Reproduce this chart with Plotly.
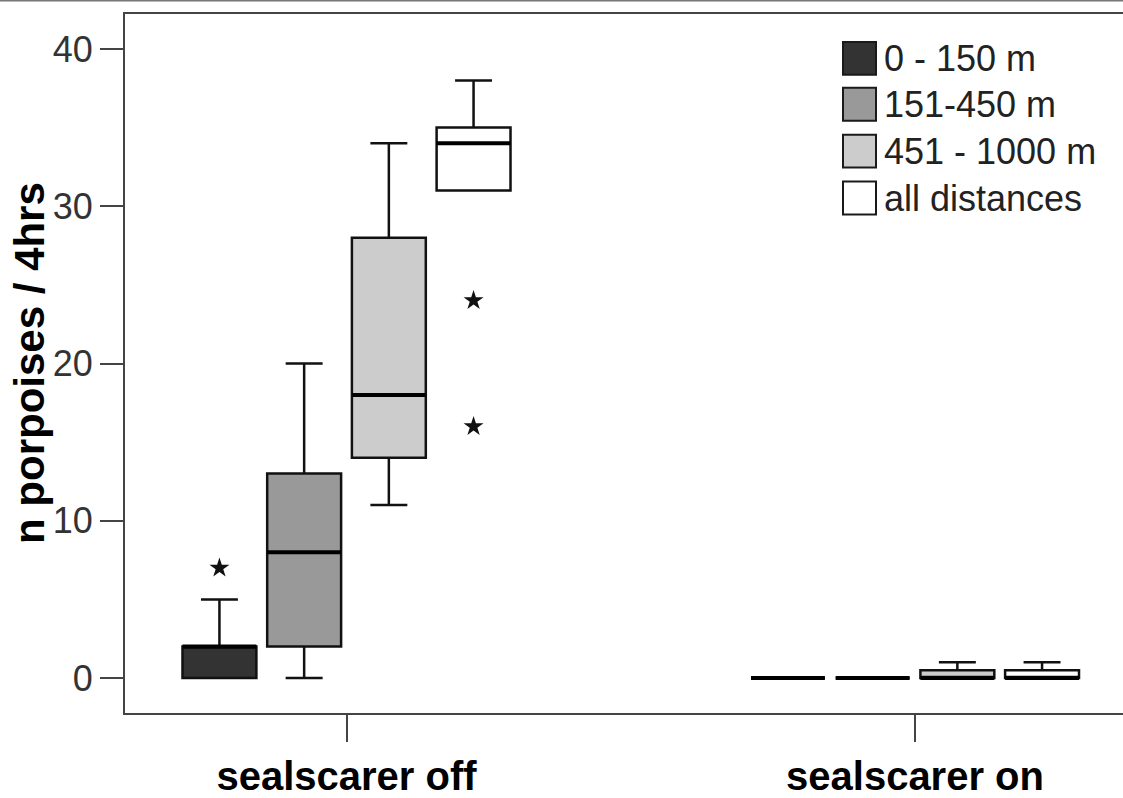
import plotly.graph_objects as go

# ---------------- data ----------------
groups = ["sealscarer off", "sealscarer on"]
series = ["0 - 150 m", "151-450 m", "451 - 1000 m", "all distances"]
fills = ["#333333", "#999999", "#cccccc", "#ffffff"]

# per series: values for [off, on]
q1 = {
    "0 - 150 m": [0, 0],
    "151-450 m": [2, 0],
    "451 - 1000 m": [14, 0],
    "all distances": [31, 0],
}
median = {
    "0 - 150 m": [2, 0],
    "151-450 m": [8, 0],
    "451 - 1000 m": [18, 0],
    "all distances": [34, 0],
}
q3 = {
    "0 - 150 m": [2, 0],
    "151-450 m": [13, 0],
    "451 - 1000 m": [28, 0.5],
    "all distances": [35, 0.5],
}
lower_whisker = {
    "0 - 150 m": [0, 0],
    "151-450 m": [0, 0],
    "451 - 1000 m": [11, 0],
    "all distances": [31, 0],
}
upper_whisker = {
    "0 - 150 m": [5, 0],
    "151-450 m": [20, 0],
    "451 - 1000 m": [34, 1],
    "all distances": [38, 1],
}
# extreme values (stars): (series, group index, value)
extremes = [
    ("0 - 150 m", 0, 7),
    ("all distances", 0, 24),
    ("all distances", 0, 16),
]

y_ticks = [0, 10, 20, 30, 40]
y_title = "n porpoises / 4hrs"

# ---------------- layout constants ----------------
W, H = 1123, 798
L, R, T, B = 125, 0, 14, 83
step = 0.149          # spacing between boxes within a group (x units)
bw = 0.130            # box width (x units)

def xpos(si, gi):
    return gi + (si - (len(series) - 1) / 2) * step

fig = go.Figure()

for si, s in enumerate(series):
    xs = [xpos(si, gi) for gi in range(len(groups))]
    fig.add_trace(go.Box(
        x=xs,
        q1=q1[s], median=median[s], q3=q3[s],
        lowerfence=lower_whisker[s], upperfence=upper_whisker[s],
        width=bw, whiskerwidth=0.5,
        fillcolor=fills[si],
        line=dict(color="#111111", width=2.5),
        name=s, showlegend=False, boxpoints=False, hoverinfo="skip",
    ))

# thick median lines
for si, s in enumerate(series):
    for gi in range(len(groups)):
        xc = xpos(si, gi)
        fig.add_trace(go.Scatter(
            x=[xc - bw / 2, xc + bw / 2], y=[median[s][gi]] * 2,
            mode="lines", line=dict(color="black", width=4),
            showlegend=False, hoverinfo="skip",
        ))

# extreme values
fig.add_trace(go.Scatter(
    x=[xpos(series.index(s), gi) for s, gi, v in extremes],
    y=[v for s, gi, v in extremes],
    mode="markers",
    marker=dict(symbol="star", size=15, color="#111111", line=dict(width=0)),
    showlegend=False, hoverinfo="skip",
))

pw = W - L - R
ph = H - T - B

def px_x(px):
    return (px - L) / pw

def px_y(py):
    return (H - B - py) / ph

shapes = []
annotations = []
# top border line of the page
shapes.append(dict(type="line", xref="paper", yref="paper",
                   x0=px_x(0), x1=px_x(W), y0=px_y(0.5), y1=px_y(0.5),
                   line=dict(color="#777777", width=2)))

# custom legend
leg_top = [42, 88, 135, 182]
for i, s in enumerate(series):
    t = leg_top[i]
    shapes.append(dict(type="rect", xref="paper", yref="paper",
                       x0=px_x(843), x1=px_x(876), y0=px_y(t + 33), y1=px_y(t),
                       fillcolor=fills[i], line=dict(color="#1a1a1a", width=2)))
    annotations.append(dict(text=s, xref="paper", yref="paper",
                            x=px_x(882), y=px_y(t + 17), xanchor="left", yanchor="middle",
                            showarrow=False,
                            font=dict(family="Liberation Sans, Arial", size=36, color="#222222")))

# y-axis title
annotations.append(dict(text=y_title, xref="paper", yref="paper",
                        x=px_x(29), y=px_y(364), xanchor="center", yanchor="middle",
                        textangle=-90, showarrow=False,
                        font=dict(family="Liberation Sans, Arial", size=42, color="black",
                                  weight="bold")))

fig.update_layout(
    width=W, height=H,
    margin=dict(l=L, r=R, t=T, b=B),
    paper_bgcolor="white", plot_bgcolor="white",
    shapes=shapes, annotations=annotations,
    showlegend=False,
    xaxis=dict(
        range=[(L - 346.5) / 568.5, (L + pw - 346.5) / 568.5],
        tickmode="array", tickvals=list(range(len(groups))), ticktext=groups,
        ticks="outside", ticklen=27, tickwidth=2, tickcolor="#444444",
        showline=True, linecolor="#444444", linewidth=2, mirror=True,
        showgrid=False, zeroline=False,
        tickfont=dict(family="Liberation Sans, Arial", size=40, color="black", weight="bold"),
    ),
    yaxis=dict(
        range=[-2.22, 42.22],
        tickmode="array", tickvals=y_ticks,
        ticks="outside", ticklen=23, tickwidth=2, tickcolor="#444444",
        showline=True, linecolor="#444444", linewidth=2,
        showgrid=False, zeroline=False,
        tickfont=dict(family="Liberation Sans, Arial", size=36, color="#333333"),
    ),
)

fig.write_html("out.html")
